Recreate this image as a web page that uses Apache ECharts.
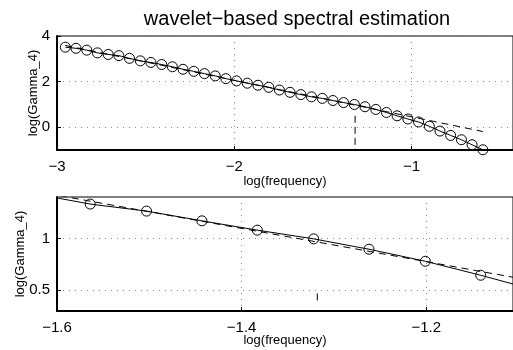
<!DOCTYPE html>
<html>
<head>
<meta charset="utf-8">
<script src="https://cdn.jsdelivr.net/npm/echarts@6/dist/echarts.min.js"></script>
<style>
  html, body { margin: 0; padding: 0; background: #fff; }
  #chart { width: 513px; height: 350px; }
</style>
</head>
<body>
<div id="chart"></div>
<script>
// log(frequency) of every scale (5 voices per octave) and the estimated log(Gamma_4)
const logFreq = [
  -2.953, -2.893, -2.832, -2.772, -2.711, -2.651, -2.591, -2.530, -2.470, -2.409,
  -2.349, -2.289, -2.228, -2.168, -2.107, -2.047, -1.987, -1.926, -1.866, -1.805,
  -1.745, -1.685, -1.624, -1.564, -1.503, -1.443, -1.383, -1.322, -1.262, -1.201,
  -1.141, -1.081, -1.020, -0.960, -0.899, -0.839, -0.779, -0.718, -0.658, -0.597
]
const logGamma = [
  3.51, 3.46, 3.38, 3.26, 3.19, 3.14, 3.02, 2.91, 2.84, 2.75,
  2.65, 2.54, 2.45, 2.35, 2.25, 2.13, 2.03, 1.93, 1.84, 1.75,
  1.63, 1.53, 1.43, 1.332, 1.264, 1.170, 1.080, 0.996, 0.896, 0.780,
  0.645, 0.50, 0.36, 0.23, 0.04, -0.17, -0.36, -0.55, -0.77, -0.99
]
// regression line (dashed)
const fitX = [-2.953, -0.597]
const fitY = [3.586, -0.190]
// cut-off marker
const cutX = [-1.318, -1.318]
const cutTopY = [0.5, -1]
const cutBottomY = [0.47, 0.40]
// ticks
const topXTicks = [-3, -2, -1]
const topYTicks = [0, 2, 4]
const bottomXTicks = [-1.6, -1.4, -1.2]
const bottomYTicks = [0.5, 1]

const font = 'Liberation Sans, Arial, Helvetica, sans-serif'
const pts = logFreq.map((x, i) => [x, logGamma[i]])
const fit = fitX.map((x, i) => [x, fitY[i]])
const fmt = v => String(v).replace('-', '\u2212')

function axis (grid, min, max, ticks, name, gap, isY) {
  return {
    type: 'value',
    gridIndex: grid,
    min: min,
    max: max,
    name: name,
    nameLocation: 'middle',
    nameGap: gap,
    nameMoveOverlap: false,
    nameTextStyle: { color: '#000', fontFamily: font, fontSize: 13 },
    axisLine: { show: true, onZero: false, lineStyle: { color: '#000', width: 2 } },
    axisTick: { show: true, inside: true, length: 4, customValues: ticks, lineStyle: { color: '#000' } },
    axisLabel: {
      customValues: ticks,
      formatter: fmt,
      color: '#000',
      fontFamily: font,
      fontSize: 15,
      margin: isY ? 7 : 9,
      showMinLabel: true,
      showMaxLabel: true
    },
    splitLine: { show: true, lineStyle: { color: '#888', type: [1, 5], width: 1 } }
  }
}

function lines (idx, cutY) {
  return [
    {
      type: 'line',
      xAxisIndex: idx,
      yAxisIndex: idx,
      data: pts,
      symbol: 'circle',
      symbolSize: 10,
      showAllSymbol: true,
      lineStyle: { color: '#000', width: 1 },
      itemStyle: { color: 'rgba(0,0,0,0)', borderColor: '#000', borderWidth: 1 },
      animation: false
    },
    {
      type: 'line',
      xAxisIndex: idx,
      yAxisIndex: idx,
      data: fit,
      symbol: 'none',
      lineStyle: { color: '#000', width: 1, type: [7, 5] },
      animation: false
    },
    {
      type: 'line',
      xAxisIndex: idx,
      yAxisIndex: idx,
      data: cutX.map((x, i) => [x, cutY[i]]),
      symbol: 'none',
      lineStyle: { color: '#000', width: 1, type: [7, 4] },
      animation: false
    }
  ]
}

const chart = echarts.init(document.getElementById('chart'))
chart.setOption({
  animation: false,
  title: {
    text: 'wavelet\u2212based spectral estimation',
    left: 292,
    textAlign: 'center',
    top: 4,
    textStyle: { color: '#000', fontFamily: font, fontSize: 20, fontWeight: 'normal' }
  },
  grid: [
    { left: 57, top: 36, right: -2, height: 114, show: true, borderColor: '#000', borderWidth: 1 },
    { left: 57, top: 197, right: -2, height: 114, show: true, borderColor: '#000', borderWidth: 1 }
  ],
  xAxis: [
    axis(0, -3, -0.427, topXTicks, 'log(frequency)', 25, false),
    axis(1, -1.6, -1.106, bottomXTicks, 'log(frequency)', 23, false)
  ],
  yAxis: [
    axis(0, -1, 4, topYTicks, 'log(Gamma_4)', 17, true),
    axis(1, 0.3, 1.4, bottomYTicks, 'log(Gamma_4)', 30, true)
  ],
  series: lines(0, cutTopY).concat(lines(1, cutBottomY))
})
</script>
</body>
</html>
